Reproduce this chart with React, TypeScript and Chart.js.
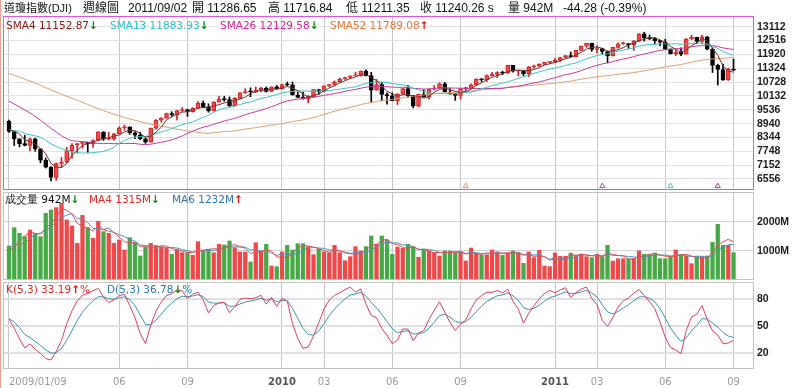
import React, { useEffect, useRef } from 'react';
import { Chart, registerables } from 'chart.js';
Chart.register(...registerables);

// ---------- data ----------
const tickIdx = [0, 21, 34, 52, 60, 73, 86, 104, 112, 125, 138];
const tickLabels = ['2009/01/09', '06', '09', '2010', '03', '06', '09', '2011', '03', '06', '09'];
const priceTicks = [6556, 7152, 7748, 8344, 8940, 9536, 10132, 10728, 11324, 11920, 12516, 13112];
const volTicks = [1000, 2000];
const kdTicks = [20, 50, 80];

// weekly closes 2008/01/18 .. 2009/01/02 (for moving averages)
const priorCloses = [
  12099.30, 12207.17, 12743.19, 12182.13, 12348.21, 12381.02, 12266.39, 11893.69, 11951.09, 12361.32,
  12216.40, 12609.42, 12325.42, 12849.36, 12891.86, 13058.20, 12745.88, 12986.80, 12479.63, 12638.32,
  12209.81, 12307.35, 11842.69, 11346.51, 11288.53, 11100.54, 11496.57, 11370.69, 11326.32, 11734.32,
  11659.90, 11628.06, 11543.55, 11220.96, 11421.99, 11388.44, 11143.13, 10325.38, 8451.19, 8852.22,
  8378.95, 9325.01, 8943.81, 8497.31, 8046.42, 8829.04, 8635.42, 8629.68, 8579.11, 8515.55, 9034.69,
];
const priorHighs = [8930, 8960, 8660, 9065];
const priorLows = [8380, 8420, 8420, 8470];
const priorVolumes = [1300, 1250, 1450, 650, 850];
const kStart = 58;
const dStart = 58;

const opens = [
  9034.69, 8599.18, 8281.22, 8077.56, 8000.86, 8280.59, 7850.41, 7365.67, 7062.93, 6626.94,
  7223.98, 7278.38, 7776.18, 8017.59, 8083.38, 8131.33, 8076.29, 8212.41, 8574.65, 8268.64,
  8277.32, 8500.33, 8763.06, 8799.26, 8539.73, 8438.39, 8280.74, 8146.52, 8743.94, 9093.24,
  9171.61, 9370.07, 9321.40, 9505.96, 9544.20, 9441.27, 9605.41, 9820.20, 9665.19, 9487.67,
  9864.94, 9995.91, 9972.18, 9712.73, 10023.42, 10270.47, 10318.16, 10309.92, 10388.90, 10471.50,
  10328.89, 10520.10,
  10428.05, 10618.19, 10609.65, 10172.98, 10067.33, 10012.23, 10099.14, 10402.35, 10325.26, 10566.20,
  10624.69, 10741.98, 10850.36, 10927.07, 10997.35, 11018.66, 11204.28, 11008.61, 10380.43, 10620.16,
  10193.39, 10136.63, 9931.97, 10211.07, 10450.64, 10143.81, 9686.48, 10198.03, 10097.90, 10424.62,
  10465.94, 10653.56, 10303.15, 10213.62, 10150.65, 10447.93, 10462.77, 10607.85, 10860.26, 10829.68,
  11006.48, 11062.78, 11132.56, 11118.49, 11444.08, 11192.58, 11203.55, 11092.00, 11382.09, 11410.32,
  11491.91, 11573.49,
  11577.51, 11674.76, 11787.38, 11871.84, 11823.70, 12092.15, 12273.26, 12391.25, 12130.45, 12169.88,
  12044.40, 11858.52, 12220.59, 12376.72, 12380.05, 12341.83, 12505.99, 12810.54, 12638.74, 12595.75,
  12512.04, 12441.58, 12151.26, 11951.91, 12004.36, 11934.58, 12582.77, 12657.20, 12479.73, 12681.16,
  12143.24, 11444.61, 11269.02, 10817.65, 11286.65,
];
const highs = [
  9088, 8600, 8290, 8440, 8315, 8315, 7860, 7460, 7090, 7250,
  7486, 7924, 8076, 8084, 8160, 8140, 8250, 8600, 8600, 8560,
  8520, 8800, 8878, 8800, 8600, 8570, 8325, 8745, 9110, 9200,
  9390, 9450, 9510, 9630, 9560, 9630, 9885, 9918, 9790, 9880,
  10120, 10120, 10090, 10060, 10290, 10440, 10480, 10520, 10510, 10520,
  10530, 10580,
  10620, 10730, 10730, 10300, 10300, 10150, 10420, 10420, 10570, 10630,
  10780, 10900, 10940, 11000, 11150, 11210, 11258, 11150, 10840, 10720,
  10270, 10270, 10230, 10450, 10590, 10150, 10210, 10400, 10430, 10580,
  10700, 10720, 10450, 10250, 10450, 10500, 10650, 10870, 10880, 11040,
  11150, 11170, 11200, 11450, 11450, 11250, 11230, 11400, 11460, 11520,
  11580, 11600,
  11750, 11800, 11880, 12020, 12100, 12280, 12400, 12400, 12290, 12180,
  12070, 12230, 12420, 12450, 12390, 12520, 12820, 12876, 12760, 12650,
  12530, 12570, 12160, 12120, 12200, 12600, 12750, 12660, 12750, 12690,
  12200, 11500, 11500, 11330, 11716.84,
];
const lows = [
  8560, 7995, 7940, 7980, 7768, 7750, 7249, 7030, 6470, 6500,
  7050, 7250, 7450, 7665, 7880, 7705, 7920, 8200, 8220, 8240,
  8230, 8500, 8660, 8480, 8290, 8240, 8087, 8140, 8700, 9000,
  9170, 9230, 9100, 9460, 9250, 9440, 9600, 9620, 9430, 9480,
  9860, 9900, 9680, 9700, 10020, 10240, 10100, 10270, 10300, 10300,
  10320, 10420,
  10430, 10570, 10160, 10050, 9990, 9835, 10060, 10200, 10320, 10530,
  10590, 10720, 10840, 10880, 10990, 10980, 10990, 9870, 10380, 9920,
  9775, 9930, 9760, 10190, 10080, 9615, 9660, 10090, 9990, 10390,
  10460, 10300, 10200, 9940, 10000, 10320, 10460, 10580, 10750, 10750,
  10990, 10930, 11050, 11090, 11150, 10995, 11000, 10960, 11330, 11400,
  11480, 11530,
  11577, 11600, 11750, 11800, 11820, 12080, 12220, 12050, 11980, 11950,
  11555, 11850, 12190, 12350, 12180, 12090, 12480, 12490, 12550, 12380,
  12300, 12130, 11930, 11860, 11870, 11930, 12560, 12380, 12380, 12120,
  11140, 10600, 10800, 10800, 11211.35,
];
const closes = [
  8599.18, 8281.22, 8077.56, 8000.86, 8280.59, 7850.41, 7365.67, 7062.93, 6626.94, 7223.98,
  7278.38, 7776.18, 8017.59, 8083.38, 8131.33, 8076.29, 8212.41, 8574.65, 8268.64, 8277.32,
  8500.33, 8763.06, 8799.26, 8539.73, 8438.39, 8280.74, 8146.52, 8743.94, 9093.24, 9171.61,
  9370.07, 9321.40, 9505.96, 9544.20, 9441.27, 9605.41, 9820.20, 9665.19, 9487.67, 9864.94,
  9995.91, 9972.18, 9712.73, 10023.42, 10270.47, 10318.16, 10309.92, 10388.90, 10471.50, 10328.89,
  10520.10, 10428.05,
  10618.19, 10609.65, 10172.98, 10067.33, 10012.23, 10099.14, 10402.35, 10325.26, 10566.20, 10624.69,
  10741.98, 10850.36, 10927.07, 10997.35, 11018.66, 11204.28, 11008.61, 10380.43, 10620.16, 10193.39,
  10136.63, 9931.97, 10211.07, 10450.64, 10143.81, 9686.48, 10198.03, 10097.90, 10424.62, 10465.94,
  10653.56, 10303.15, 10213.62, 10150.65, 10447.93, 10462.77, 10607.85, 10860.26, 10829.68, 11006.48,
  11062.78, 11132.56, 11118.49, 11444.08, 11192.58, 11203.55, 11092.00, 11382.09, 11410.32, 11491.91,
  11573.49, 11577.51,
  11674.76, 11787.38, 11871.84, 11823.70, 12092.15, 12273.26, 12391.25, 12130.45, 12169.88, 12044.40,
  11858.52, 12220.59, 12376.72, 12380.05, 12341.83, 12505.99, 12810.54, 12638.74, 12595.75, 12512.04,
  12441.58, 12151.26, 11951.91, 12004.36, 11934.58, 12582.77, 12657.20, 12479.73, 12681.16, 12143.24,
  11444.61, 11269.02, 10817.65, 11284.54, 11240.26,
];
// weekly volume, millions
const volumes = [
  1172, 1803, 1608, 1494, 1724, 1608, 1494, 2297, 2413, 2494,
  2643, 2070, 1862, 1263, 2228, 1803, 1436, 2022, 1666, 1608,
  1263, 1378, 1034, 1459, 1286, 828, 1138, 1263, 1172, 1149,
  1114, 884, 1034, 942, 942, 850, 1321, 1000, 1057, 942,
  1229, 1207, 1345, 1114, 966, 966, 620, 1286, 1000, 1229,
  483, 460, 966, 1195, 1034, 1252, 1252, 1149, 873, 1057,
  966, 942, 1195, 942, 666, 804, 1149, 1000, 1149, 1517,
  1229, 1517, 1378, 884, 1138, 1091, 1229, 1149, 781, 1034,
  1000, 942, 828, 1000, 1000, 977, 977, 655, 1102, 919,
  862, 862, 1034, 966, 850, 919, 1000, 942, 574, 966,
  769, 1022, 483, 460, 930, 815, 815, 930, 850, 896,
  804, 769, 884, 804, 1195, 655, 735, 735, 735, 735,
  1000, 884, 884, 930, 735, 735, 804, 1034, 884, 828,
  563, 804, 804, 830, 1302, 1920, 1200, 1198, 942,
];
const markerIdx = [87, 113, 126, 135];
const markerColors = ['#e8907a', '#b050b0', '#48c4d8', '#8a4a8a'];
const markerLevel = 6250;

// ---------- layout / style ----------
const X_MIN = -1.14;
const X_MAX = 141.9;
const FONT = 'DejaVu Sans';
const UP = '#f24a4a';
const UP_EDGE = '#cc2222';
const DOWN = '#000000';
const VOL_UP = '#f04848';
const VOL_DOWN = '#46a846';

function movingAvg(series: number[], prior: number[], n: number): number[] {
  const all = prior.concat(series);
  const off = prior.length;
  return series.map((_, i) => {
    const end = off + i;
    const start = Math.max(0, end - n + 1);
    let s = 0;
    for (let k = start; k <= end; k++) s += all[k];
    return s / (end - start + 1);
  });
}

function computeKD(): { k: number[]; d: number[] } {
  const H = priorHighs.concat(highs);
  const L = priorLows.concat(lows);
  const off = priorHighs.length;
  const k = [kStart];
  const d = [dStart];
  for (let i = 1; i < closes.length; i++) {
    const end = off + i;
    const start = Math.max(0, end - 4);
    let hh = -Infinity, ll = Infinity;
    for (let j = start; j <= end; j++) { hh = Math.max(hh, H[j]); ll = Math.min(ll, L[j]); }
    const rsv = hh === ll ? 50 : ((closes[i] - ll) / (hh - ll)) * 100;
    const kv = (k[i - 1] * 2) / 3 + rsv / 3;
    const dv = (d[i - 1] * 2) / 3 + kv / 3;
    k.push(kv);
    d.push(dv);
  }
  return { k, d };
}

const framePlugin = {
  id: 'frame',
  afterDraw(chart: any, _args: any, opts: any) {
    const { ctx, chartArea: a } = chart;
    ctx.save();
    ctx.strokeStyle = opts.color;
    ctx.lineWidth = 1;
    const l = Math.round(a.left) + 0.5, t = Math.round(a.top) + 0.5;
    const r = Math.round(a.right) - 0.5, b = Math.round(a.bottom) - 0.5;
    ctx.strokeRect(l, t, r - l, b - t);
    ctx.restore();
  },
};

function xScale(showLabels: boolean) {
  return {
    type: 'linear',
    min: X_MIN,
    max: X_MAX,
    bounds: 'data',
    offset: false,
    afterBuildTicks: (s: any) => {
      const t = tickIdx.map((v) => ({ value: v }));
      if (showLabels) t.push({ value: X_MAX });
      s.ticks = t;
    },
    grid: {
      color: (c: any) => (c.tick && tickIdx.includes(c.tick.value) ? '#c6c6c6' : 'rgba(0,0,0,0)'),
      drawTicks: false,
      offset: false,
    },
    border: { display: false },
    ticks: {
      display: showLabels,
      autoSkip: false,
      maxRotation: 0,
      minRotation: 0,
      align: 'inner',
      padding: 7,
      callback: (v: number) => {
        const k = tickIdx.indexOf(v);
        return k >= 0 ? tickLabels[k] : '';
      },
      font: (c: any) => ({
        family: FONT,
        size: 10,
        weight: ['2010', '2011'].includes(tickLabels[c.index]) ? 'bold' : 'normal',
      }),
      color: (c: any) => (['2010', '2011'].includes(tickLabels[c.index]) ? '#555555' : '#9a9a9a'),
    },
    afterFit: (s: any) => {
      s.height = showLabels ? 18.7 : 0;
      s.paddingLeft = 0;
      s.paddingRight = 0;
      s.paddingTop = 0;
      s.paddingBottom = 0;
    },
  };
}

function yScale(min: number, max: number, ticks: number[], fmt: (v: number) => string, gridColor: string, gridWidth: number) {
  return {
    type: 'linear',
    position: 'right',
    min,
    max,
    bounds: 'data',
    afterBuildTicks: (s: any) => {
      s.ticks = ticks.map((v) => ({ value: v }));
    },
    grid: { color: gridColor, lineWidth: gridWidth, drawTicks: false },
    border: { display: false },
    ticks: {
      autoSkip: false,
      padding: 3,
      color: '#1a1a1a',
      font: { family: 'Liberation Sans', size: 10.5, weight: 'bold' },
      callback: (v: number) => fmt(v),
    },
    afterFit: (s: any) => {
      s.width = 46;
      s.paddingTop = 0;
      s.paddingBottom = 0;
      s.paddingLeft = 0;
      s.paddingRight = 0;
    },
  };
}

const baseOptions = {
  responsive: false,
  animation: false,
  events: [],
  plugins: { legend: { display: false }, tooltip: { enabled: false } },
};

export default function App() {
  const mainRef = useRef<HTMLCanvasElement>(null);
  const volRef = useRef<HTMLCanvasElement>(null);
  const kdRef = useRef<HTMLCanvasElement>(null);

  useEffect(() => {
    document.body.style.margin = '0';
    const idx = closes.map((_, i) => i);
    const upCandle = idx.map((i) => closes[i] >= opens[i]);
    const sma4 = movingAvg(closes, priorCloses, 4);
    const sma13 = movingAvg(closes, priorCloses, 13);
    const sma26 = movingAvg(closes, priorCloses, 26);
    const sma52 = movingAvg(closes, priorCloses, 52);
    const vma4 = movingAvg(volumes, priorVolumes, 4);
    const vma6 = movingAvg(volumes, priorVolumes, 6);
    const { k, d } = computeKD();
    const prevClose = (i: number) => (i === 0 ? priorCloses[priorCloses.length - 1] : closes[i - 1]);
    const volUp = idx.map((i) => closes[i] >= prevClose(i));

    const line = (vals: number[], color: string, width = 1) => ({
      type: 'line',
      data: vals.map((v, i) => ({ x: i, y: v })),
      borderColor: color,
      borderWidth: width,
      pointRadius: 0,
      pointHoverRadius: 0,
      fill: false,
      tension: 0,
    });

    const main = new Chart(mainRef.current!, {
      type: 'bar',
      data: {
        datasets: [
          line(sma4, '#6e3434'),
          line(sma13, '#3cc4c8'),
          line(sma26, '#c23c9c'),
          line(sma52, '#dca070'),
          {
            type: 'bar',
            data: idx.map((i) => ({ x: i, y: [opens[i], closes[i]] })),
            backgroundColor: idx.map((i) => (upCandle[i] ? UP : DOWN)),
            borderColor: idx.map((i) => (upCandle[i] ? UP_EDGE : DOWN)),
            borderWidth: 1,
            borderSkipped: false,
            barThickness: 4,
            minBarLength: 1,
            grouped: false,
          },
          {
            type: 'bar',
            data: idx.map((i) => ({ x: i, y: [lows[i], highs[i]] })),
            backgroundColor: idx.map((i) => (upCandle[i] ? UP_EDGE : DOWN)),
            borderWidth: 0,
            barThickness: 1,
            grouped: false,
          },
          {
            type: 'scatter',
            data: markerIdx.map((i) => ({ x: i, y: markerLevel })),
            pointStyle: 'triangle',
            pointRadius: 3,
            pointHoverRadius: 3,
            backgroundColor: 'rgba(0,0,0,0)',
            borderColor: markerColors,
            borderWidth: 1,
          },
        ] as any,
      },
      options: {
        ...baseOptions,
        layout: { autoPadding: false, padding: { left: 3, right: 0, top: 16, bottom: 0 } },
        scales: {
          x: xScale(false),
          y: yScale(6082, 13573, priceTicks, (v) => String(v), '#e2e2e2', 1),
        },
        plugins: { ...baseOptions.plugins, frame: { color: '#dd55dd' } },
      } as any,
      plugins: [framePlugin],
    });

    const vol = new Chart(volRef.current!, {
      type: 'bar',
      data: {
        datasets: [
          line(vma4, '#e05050'),
          line(vma6, '#4a94c4'),
          {
            type: 'bar',
            data: idx.map((i) => ({ x: i, y: volumes[i] })),
            backgroundColor: idx.map((i) => (volUp[i] ? VOL_UP : VOL_DOWN)),
            borderWidth: 0,
            barThickness: 3.6,
            grouped: false,
          },
        ] as any,
      },
      options: {
        ...baseOptions,
        layout: { autoPadding: false, padding: { left: 3, right: 0, top: 2, bottom: 2 } },
        scales: {
          x: xScale(false),
          y: yScale(0, 3034, volTicks, (v) => `${v}M`, '#d4d4d4', 1),
        },
        plugins: { ...baseOptions.plugins, frame: { color: '#c4c4c4' } },
      } as any,
      plugins: [framePlugin],
    });

    const kd = new Chart(kdRef.current!, {
      type: 'line',
      data: {
        datasets: [line(k, '#d4405c'), line(d, '#3a92b4')] as any,
      },
      options: {
        ...baseOptions,
        layout: { autoPadding: false, padding: { left: 3, right: 0, top: 2, bottom: 0 } },
        scales: {
          x: xScale(true),
          y: yScale(1.5, 99.3, kdTicks, (v) => String(v), '#e0e0e0', 2),
        },
        plugins: { ...baseOptions.plugins, frame: { color: '#c4c4c4' } },
      } as any,
      plugins: [framePlugin],
    });

    return () => {
      main.destroy();
      vol.destroy();
      kd.destroy();
    };
  }, []);

  const abs = (left: number, top: number, extra: React.CSSProperties = {}): React.CSSProperties => ({
    position: 'absolute',
    left,
    top,
    whiteSpace: 'pre',
    lineHeight: '14px',
    ...extra,
  });
  const legendFont: React.CSSProperties = { fontFamily: FONT, fontSize: '10.5px' };
  const titleFont: React.CSSProperties = { fontFamily: '"Liberation Sans", "Noto Sans CJK TC", sans-serif', fontSize: '12px', color: '#111' };
  const down = <span style={{ color: '#0a8a0a', fontWeight: 'bold' }}>↓</span>;
  const up = <span style={{ color: '#e01010', fontWeight: 'bold' }}>↑</span>;

  return (
    <div style={{ position: 'fixed', left: 0, top: 0, width: 800, height: 388, background: '#ffffff', overflow: 'hidden' }}>
      <div style={{ position: 'absolute', left: 0, top: 0, width: 1, height: 388, background: '#e8a090' }} />
      <canvas ref={mainRef} width={800} height={190} style={{ position: 'absolute', left: 0, top: 0 }} />
      <canvas ref={volRef} width={800} height={92} style={{ position: 'absolute', left: 0, top: 190 }} />
      <canvas ref={kdRef} width={800} height={108} style={{ position: 'absolute', left: 0, top: 280 }} />

      <div style={abs(4, 1, { ...titleFont, fontSize: '11px' })}>道瓊指數(DJI)</div>
      <div style={abs(83, 1, titleFont)}>週線圖</div>
      <div style={abs(128, 1, titleFont)}>2011/09/02</div>
      <div style={abs(192, 1, titleFont)}>開 11286.65</div>
      <div style={abs(268, 1, titleFont)}>高 11716.84</div>
      <div style={abs(346, 1, titleFont)}>低 11211.35</div>
      <div style={abs(420, 1, titleFont)}>收 11240.26 s</div>
      <div style={abs(508, 1, titleFont)}>量 942M</div>
      <div style={abs(563, 1, titleFont)}>-44.28 (-0.39%)</div>

      <div style={abs(6, 18, { ...legendFont, color: '#8b1414' })}>SMA4 11152.87{down}</div>
      <div style={abs(110, 18, { ...legendFont, color: '#2cc0cc' })}>SMA13 11883.93{down}</div>
      <div style={abs(220, 18, { ...legendFont, color: '#d02494' })}>SMA26 12129.58{down}</div>
      <div style={abs(330, 18, { ...legendFont, color: '#e47834' })}>SMA52 11789.08{up}</div>

      <div style={abs(5, 192, { ...legendFont, color: '#111' })}>成交量 942M{down}</div>
      <div style={abs(89, 192, { ...legendFont, color: '#e02828' })}>MA4 1315M{down}</div>
      <div style={abs(172, 192, { ...legendFont, color: '#2a78b4' })}>MA6 1232M{up}</div>

      <div style={abs(6, 282, { ...legendFont, color: '#e02828' })}>K(5,3) 33.19{up}%</div>
      <div style={abs(107, 282, { ...legendFont, color: '#2a78b4' })}>D(5,3) 36.78{down}%</div>
    </div>
  );
}
